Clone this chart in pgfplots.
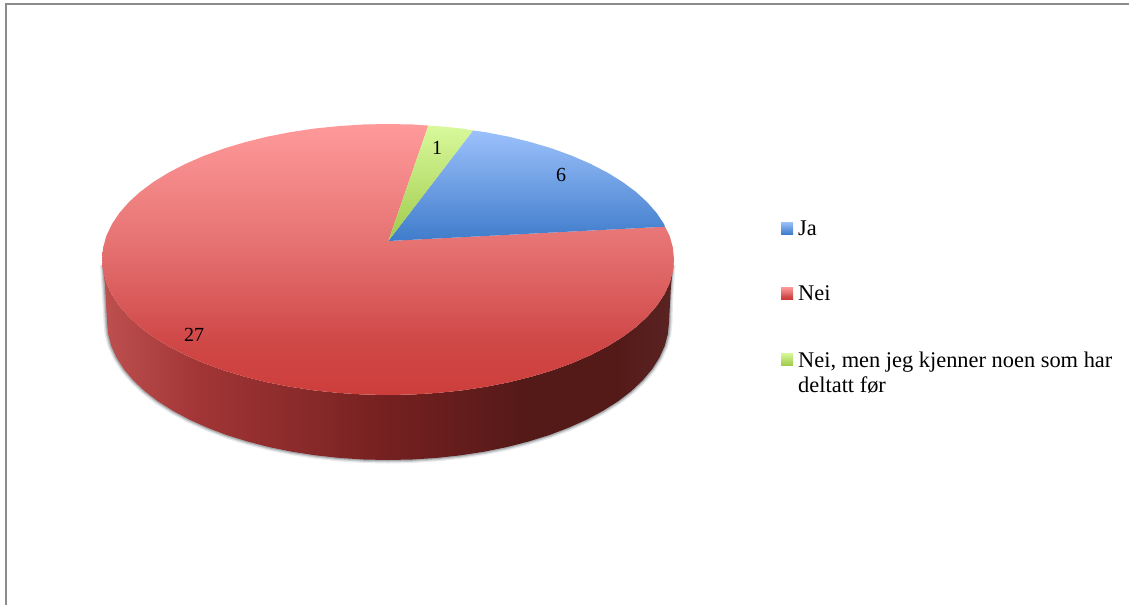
\documentclass[border=0pt]{standalone}
\usepackage{fontspec}
\setmainfont{Liberation Serif}
\usepackage{pgfplots}
\usepackage{pgfplotstable}
\pgfplotsset{compat=1.18}

% pie values: Ja 6, Nei 27, Nei men ... 1
\definecolor{redA}{HTML}{FF9A9A}
\definecolor{redB}{HTML}{E57070}
\definecolor{redC}{HTML}{D04848}
\definecolor{redD}{HTML}{CD3E3A}
\definecolor{blueA}{HTML}{9CC1FB}
\definecolor{blueB}{HTML}{3F7CCB}
\definecolor{greenA}{HTML}{D8F99B}
\definecolor{greenB}{HTML}{A0CB4C}
\definecolor{sideA}{HTML}{BE5050}
\definecolor{sideB}{HTML}{A33636}
\definecolor{sideC}{HTML}{752020}
\definecolor{sideD}{HTML}{541A18}
\definecolor{sideE}{HTML}{5A2422}
\definecolor{shadowc}{HTML}{5E666C}

\pgfdeclareverticalshading{redtop}{100bp}{color(0bp)=(redD); color(25bp)=(redD); color(35bp)=(redC); color(52bp)=(redB); color(75bp)=(redA); color(100bp)=(redA)}
\pgfdeclareverticalshading{bluetop}{100bp}{color(0bp)=(blueB); color(25bp)=(blueB); color(75bp)=(blueA); color(100bp)=(blueA)}
\pgfdeclareverticalshading{greentop}{100bp}{color(0bp)=(greenB); color(25bp)=(greenB); color(75bp)=(greenA); color(100bp)=(greenA)}
\pgfdeclarehorizontalshading{sideshade}{100bp}{color(0bp)=(sideA); color(25bp)=(sideA); color(33bp)=(sideB); color(50bp)=(sideC); color(62bp)=(sideD); color(70bp)=(sideD); color(75bp)=(sideE); color(100bp)=(sideE)}

\pgfplotstableread{
x y
672 265
669.5 300
669 322
667.9 334
664.7 346
659.4 357.7
652.1 369.2
642.7 380.3
631.4 391
618.2 401.2
603.2 410.7
586.7 419.6
568.6 427.7
549.2 435.1
528.5 441.5
506.8 447.1
484.1 451.7
460.7 455.3
436.8 457.9
412.5 459.5
388 460
363.5 459.5
339.2 457.9
315.3 455.3
291.9 451.7
269.2 447.1
247.5 441.5
226.8 435.1
207.4 427.7
189.3 419.6
172.8 410.7
157.8 401.2
144.6 391
133.3 380.3
123.9 369.2
116.6 357.7
111.3 346
108.1 334
107 322
105.5 295
103.5 265
}\shadowarc

\begin{document}
\begin{tikzpicture}
\begin{axis}[
    width=1129pt, height=605pt, scale only axis,
    xmin=0, xmax=1129, ymin=0, ymax=605,
    y dir=reverse,
    axis lines=none,
    clip=true
]
% keeps the page as large as the whole axis
\addplot[draw=none] coordinates {(0,0) (1129,0) (1129,605) (0,605)} --cycle;

% frame
\addplot[color=black!45, line width=1.8pt] coordinates {(6,605) (6,3.7) (1129,3.7)};

% soft shadow under the side
\addplot[color=shadowc, opacity=0.14, line width=7pt] table[x=x,y=y] {\shadowarc};
\addplot[color=shadowc, opacity=0.22, line width=4.5pt] table[x=x,y=y] {\shadowarc};
\addplot[color=shadowc, opacity=0.32, line width=2.5pt] table[x=x,y=y] {\shadowarc};

% side wall
\addplot[draw=none, shading=sideshade] coordinates {
(102,259.5) (103.1,271.3) (106.3,283) (111.8,294.6) (119.2,305.8) (128.8,316.8) (140.3,327.3) (153.7,337.2)
(168.9,346.6) (185.8,355.3) (204.2,363.3) (224,370.5) (245,376.8) (267.1,382.3) (290.2,386.8) (314,390.4)
(338.4,392.9) (363.1,394.5) (388,395) (412.9,394.5) (437.6,392.9) (462,390.4) (485.8,386.8) (508.9,382.3)
(531,376.8) (552,370.5) (571.8,363.3) (590.2,355.3) (607.1,346.6) (622.3,337.2) (635.7,327.3) (647.2,316.8)
(656.8,305.8) (664.2,294.6) (669.7,283) (672.9,271.3) (674,259.5)
(671,285) (669,322) (667.9,334) (664.7,346) (659.4,357.7) (652.1,369.2) (642.7,380.3) (631.4,391) (618.2,401.2)
(603.2,410.7) (586.7,419.6) (568.6,427.7) (549.2,435.1) (528.5,441.5) (506.8,447.1) (484.1,451.7) (460.7,455.3)
(436.8,457.9) (412.5,459.5) (388,460) (363.5,459.5) (339.2,457.9) (315.3,455.3) (291.9,451.7) (269.2,447.1)
(247.5,441.5) (226.8,435.1) (207.4,427.7) (189.3,419.6) (172.8,410.7) (157.8,401.2) (144.6,391) (133.3,380.3)
(123.9,369.2) (116.6,357.7) (111.3,346) (108.1,334) (107,322) (105,285) (102,259.5)
} --cycle;

% Nei, 27
\addplot[draw=none, shading=redtop] coordinates {
(388.3,241) (428.3,125.6) (412.9,124.5) (388,124) (363.1,124.5) (338.4,126.1) (314,128.6) (290.2,132.2) (267.1,136.7)
(245,142.2) (224,148.5) (204.2,155.7) (185.8,163.7) (168.9,172.4) (153.7,181.8) (140.3,191.7) (128.8,202.2)
(119.2,213.2) (111.8,224.4) (106.3,236) (103.1,247.7) (102,259.5) (103.1,271.3) (106.3,283) (111.8,294.6)
(119.2,305.8) (128.8,316.8) (140.3,327.3) (153.7,337.2) (168.9,346.6) (185.8,355.3) (204.2,363.3) (224,370.5)
(245,376.8) (267.1,382.3) (290.2,386.8) (314,390.4) (338.4,392.9) (363.1,394.5) (388,395) (412.9,394.5)
(437.6,392.9) (462,390.4) (485.8,386.8) (508.9,382.3) (531,376.8) (552,370.5) (571.8,363.3) (590.2,355.3)
(607.1,346.6) (622.3,337.2) (635.7,327.3) (647.2,316.8) (656.8,305.8) (664.2,294.6) (669.7,283) (672.9,271.3)
(674,259.5) (672.9,247.7) (669.7,236) (665,226.7)
} --cycle;

% Ja, 6
\addplot[draw=none, shading=bluetop] coordinates {
(388.3,241) (665,226.7) (664.2,224.4) (656.8,213.2) (647.2,202.2) (635.7,191.7) (622.3,181.8) (607.1,172.4)
(590.2,163.7) (571.8,155.7) (552,148.5) (531,142.2) (508.9,136.7) (485.8,132.2) (473,130.4)
} --cycle;

% Nei, men ..., 1
\addplot[draw=none, shading=greentop] coordinates {
(388.3,241) (473,130.4) (462,128.6) (437.6,126.1) (428.3,125.6)
} --cycle;

% legend keys
\addplot[draw=none, shading=bluetop] coordinates {(781,222) (793,222) (793,234) (781,234)} --cycle;
\addplot[draw=none, shading=redtop] coordinates {(781,287) (793,287) (793,299) (781,299)} --cycle;
\addplot[draw=none, shading=greentop] coordinates {(781,353) (793,353) (793,365) (781,365)} --cycle;

\node[font=\fontsize{20}{24}\selectfont, inner sep=0pt] at (axis cs:561,175) {6};
\node[font=\fontsize{20}{24}\selectfont, inner sep=0pt] at (axis cs:437,148) {1};
\node[font=\fontsize{20}{24}\selectfont, inner sep=0pt] at (axis cs:194,335) {27};

\node[font=\fontsize{22.4}{26}\selectfont, inner sep=0pt, anchor=base west] at (axis cs:798,235) {Ja};
\node[font=\fontsize{22.4}{26}\selectfont, inner sep=0pt, anchor=base west] at (axis cs:798,300) {Nei};
\node[font=\fontsize{22.4}{26}\selectfont, inner sep=0pt, anchor=base west] at (axis cs:798,367) {Nei, men jeg kjenner noen som har};
\node[font=\fontsize{22.4}{26}\selectfont, inner sep=0pt, anchor=base west] at (axis cs:798,392) {deltatt før};
\end{axis}
\end{tikzpicture}
\end{document}
